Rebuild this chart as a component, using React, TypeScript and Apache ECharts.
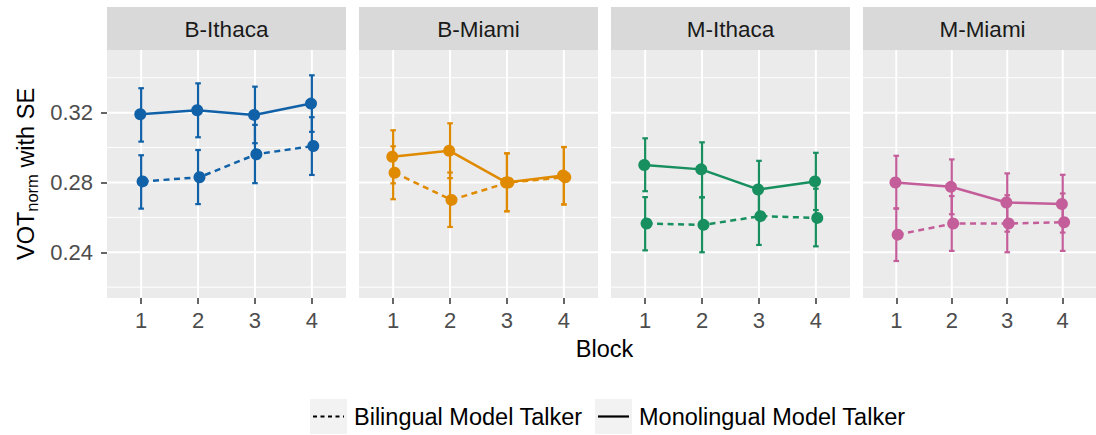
import React, { useEffect, useRef } from "react";
import * as echarts from "echarts";

const facets = ["B-Ithaca", "B-Miami", "M-Ithaca", "M-Miami"];
const facetColors = ["#1061A8", "#E08A00", "#178F5E", "#C45E9A"];
const blocks = [1, 2, 3, 4];

// Monolingual Model Talker (solid)
const monoMean = [
  [0.3191, 0.3214, 0.3187, 0.3252],
  [0.2947, 0.2982, 0.28, 0.284],
  [0.29, 0.2875, 0.276, 0.2806],
  [0.28, 0.2775, 0.2685, 0.2677],
];
const monoLower = [
  [0.3034, 0.3059, 0.3025, 0.309],
  [0.2795, 0.2825, 0.2635, 0.2674],
  [0.275, 0.2716, 0.2596, 0.2642],
  [0.2651, 0.2618, 0.2518, 0.2513],
];
const monoUpper = [
  [0.334, 0.3368, 0.3349, 0.3414],
  [0.3099, 0.3139, 0.2967, 0.3003],
  [0.3053, 0.303, 0.2924, 0.297],
  [0.2953, 0.2932, 0.2852, 0.2844],
];

// Bilingual Model Talker (dashed)
const biMean = [
  [0.2806, 0.283, 0.2962, 0.3009],
  [0.2856, 0.27, 0.28, 0.283],
  [0.2565, 0.2557, 0.2607, 0.2597],
  [0.2501, 0.2565, 0.2565, 0.2572],
];
const biLower = [
  [0.265, 0.2676, 0.2796, 0.2843],
  [0.2704, 0.2545, 0.2635, 0.2674],
  [0.2411, 0.24, 0.2442, 0.2434],
  [0.235, 0.2408, 0.24, 0.2408],
];
const biUpper = [
  [0.2956, 0.2986, 0.313, 0.3174],
  [0.3007, 0.2857, 0.2967, 0.3003],
  [0.2716, 0.2714, 0.2772, 0.2764],
  [0.2651, 0.2722, 0.2727, 0.2737],
];

const yMajor = [0.24, 0.28, 0.32];
const yMinor = [0.22, 0.26, 0.3, 0.34];
const xTicks = [1, 2, 3, 4];
const yMin = 0.2138;
const yMax = 0.3559;
const xMin = 0.4;
const xMax = 4.6;

const legendLabels = ["Bilingual Model Talker", "Monolingual Model Talker"];
const xTitle = "Block";

const FONT = "'Liberation Sans', Arial, Helvetica, sans-serif";

export default function App() {
  const ref = useRef<HTMLDivElement>(null);

  useEffect(() => {
    if (!ref.current) return;
    const chart = echarts.init(ref.current, null, { renderer: "svg" });

    const panelLeft = [107, 359, 611, 863];
    const panelW = 239;
    const top = 50;
    const h = 248;

    const grids: any[] = [];
    const xAxes: any[] = [];
    const yAxes: any[] = [];
    const series: any[] = [];
    const graphics: any[] = [];

    facets.forEach((name, i) => {
      grids.push({
        left: panelLeft[i],
        top,
        width: panelW,
        height: h,
        show: true,
        backgroundColor: "#EBEBEB",
        borderWidth: 0,
        containLabel: false,
      });
      xAxes.push({
        type: "value",
        gridIndex: i,
        min: xMin,
        max: xMax,
        axisLine: { show: false },
        splitLine: { show: false },
        axisTick: {
          show: true,
          customValues: xTicks,
          length: 6,
          lineStyle: { color: "#333333", width: 1.5 },
        },
        axisLabel: {
          show: true,
          customValues: xTicks,
          fontSize: 22,
          color: "#4D4D4D",
          margin: 11,
          fontFamily: FONT,
        },
      });
      yAxes.push({
        type: "value",
        gridIndex: i,
        min: yMin,
        max: yMax,
        axisLine: { show: false },
        splitLine: { show: false },
        axisTick: {
          show: i === 0,
          customValues: yMajor,
          length: 6,
          lineStyle: { color: "#333333", width: 1.5 },
        },
        axisLabel: {
          show: i === 0,
          customValues: yMajor,
          fontSize: 22,
          color: "#4D4D4D",
          margin: 14,
          fontFamily: FONT,
          formatter: (v: number) => v.toFixed(2),
        },
      });

      // grid lines
      const hLines = [
        ...yMinor.map((v) => [v, 1]),
        ...yMajor.map((v) => [v, 2]),
      ];
      series.push({
        type: "custom",
        xAxisIndex: i,
        yAxisIndex: i,
        z: 1,
        silent: true,
        data: hLines,
        renderItem: (params: any, api: any) => {
          const cs = params.coordSys;
          const p = api.coord([xMin, api.value(0)]);
          return {
            type: "line",
            shape: { x1: cs.x, y1: p[1], x2: cs.x + cs.width, y2: p[1] },
            style: { stroke: "#FFFFFF", lineWidth: api.value(1) },
          };
        },
      });
      series.push({
        type: "custom",
        xAxisIndex: i,
        yAxisIndex: i,
        z: 1,
        silent: true,
        data: xTicks.map((v) => [v, yMin]),
        renderItem: (params: any, api: any) => {
          const cs = params.coordSys;
          const p = api.coord([api.value(0), yMin]);
          return {
            type: "line",
            shape: { x1: p[0], y1: cs.y, x2: p[0], y2: cs.y + cs.height },
            style: { stroke: "#FFFFFF", lineWidth: 2 },
          };
        },
      });

      const color = facetColors[i];
      const groups = [
        { mean: biMean[i], lo: biLower[i], hi: biUpper[i], dash: true, dodge: 0.025 },
        { mean: monoMean[i], lo: monoLower[i], hi: monoUpper[i], dash: false, dodge: -0.015 },
      ];
      groups.forEach((g) => {
        series.push({
          type: "custom",
          xAxisIndex: i,
          yAxisIndex: i,
          z: 3,
          silent: true,
          data: blocks.map((b, k) => [b, g.lo[k], g.hi[k]]),
          renderItem: (params: any, api: any) => {
            const x = api.value(0);
            const a = api.coord([x, api.value(1)]);
            const b = api.coord([x, api.value(2)]);
            const cw = 2.8;
            const st = { stroke: color, lineWidth: 2.2 };
            return {
              type: "group",
              children: [
                { type: "line", shape: { x1: a[0], y1: a[1], x2: b[0], y2: b[1] }, style: st },
                { type: "line", shape: { x1: a[0] - cw, y1: a[1], x2: a[0] + cw, y2: a[1] }, style: st },
                { type: "line", shape: { x1: b[0] - cw, y1: b[1], x2: b[0] + cw, y2: b[1] }, style: st },
              ],
            };
          },
        });
        series.push({
          type: "line",
          xAxisIndex: i,
          yAxisIndex: i,
          z: 4,
          data: blocks.map((b, k) => [b + g.dodge, g.mean[k]]),
          symbol: "circle",
          symbolSize: 12,
          showSymbol: true,
          itemStyle: { color },
          lineStyle: { color, width: 2.5, type: g.dash ? [6, 4.5] : "solid" },
        });
      });

      // strip
      graphics.push({
        type: "rect",
        shape: { x: panelLeft[i], y: 7, width: panelW, height: 43 },
        style: { fill: "#D9D9D9" },
        silent: true,
      });
      graphics.push({
        type: "text",
        x: panelLeft[i] + panelW / 2,
        y: 29,
        style: {
          text: name,
          fontSize: 22.5,
          fontFamily: FONT,
          fill: "#1A1A1A",
          align: "center",
          verticalAlign: "middle",
        },
      });
    });

    // axis titles
    graphics.push({
      type: "text",
      x: 604.5,
      y: 349,
      style: {
        text: xTitle,
        fontSize: 23.5,
        fontFamily: FONT,
        fill: "#000000",
        align: "center",
        verticalAlign: "middle",
      },
    });
    graphics.push({
      type: "text",
      x: 26,
      y: 174,
      rotation: Math.PI / 2,
      style: {
        text: "{a|VOT}{b|norm}{a| with SE}",
        fontFamily: FONT,
        align: "center",
        verticalAlign: "middle",
        rich: {
          a: { fontSize: 23.5, lineHeight: 25, verticalAlign: "top", fill: "#000000", fontFamily: FONT },
          b: { fontSize: 16.5, lineHeight: 17, padding: [12, 0, 0, 0], fill: "#000000", fontFamily: FONT },
        },
      },
    });

    // legend
    const keyX = [310, 595];
    const textX = [354, 639];
    legendLabels.forEach((lab, k) => {
      graphics.push({
        type: "rect",
        shape: { x: keyX[k], y: 399, width: 37, height: 35 },
        style: { fill: "#F2F2F2" },
      });
      graphics.push({
        type: "line",
        shape: { x1: keyX[k] + 3, y1: 416.5, x2: keyX[k] + 34, y2: 416.5 },
        style: { stroke: "#000000", lineWidth: 2.2, lineDash: k === 0 ? [4, 3.5] : null },
      });
      graphics.push({
        type: "text",
        x: textX[k],
        y: 417,
        style: {
          text: lab,
          fontSize: 23.5,
          fontFamily: FONT,
          fill: "#000000",
          align: "left",
          verticalAlign: "middle",
        },
      });
    });

    chart.setOption({
      animation: false,
      backgroundColor: "#FFFFFF",
      textStyle: { fontFamily: FONT },
      grid: grids,
      xAxis: xAxes,
      yAxis: yAxes,
      series,
      graphic: graphics,
    });

    return () => chart.dispose();
  }, []);

  return (
    <div
      ref={ref}
      style={{ position: "fixed", left: 0, top: 0, width: 1096, height: 435 }}
    />
  );
}
